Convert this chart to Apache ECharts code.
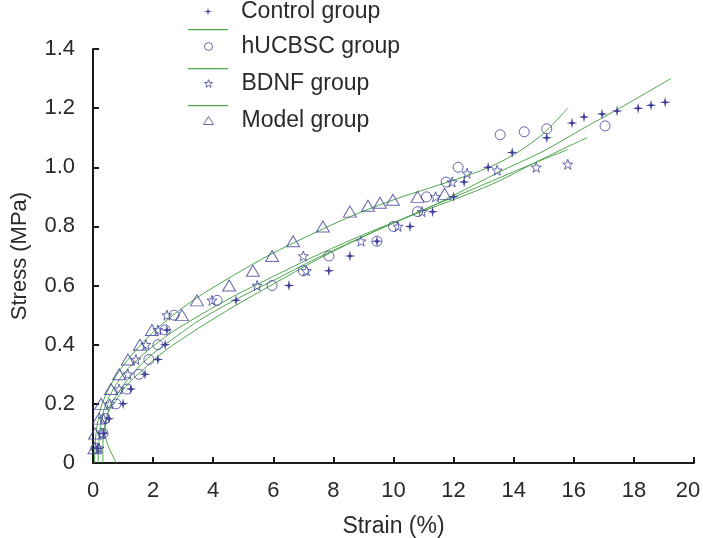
<!DOCTYPE html>
<html>
<head>
<meta charset="utf-8">
<script src="https://cdn.jsdelivr.net/npm/echarts@6/dist/echarts.min.js"></script>
<style>html,body{margin:0;padding:0;background:#fff}#c{width:703px;height:538px}</style>
</head>
<body>
<div id="c"></div>
<script>
// ---- data ----
const xTicks = [0, 2, 4, 6, 8, 10, 12, 14, 16, 18, 20];
const yTicks = [0, 0.2, 0.4, 0.6, 0.8, 1.0, 1.2, 1.4];

const controlX = [0.15,0.35,0.53,1.0,1.26,1.73,2.16,2.4,2.46,4.76,6.52,7.85,8.55,9.45,10.55,11.3,12.0,12.35,13.15,13.95,15.1,15.94,16.34,16.94,17.44,18.14,18.57,19.04];
const controlY = [0.05,0.10,0.15,0.20,0.25,0.30,0.35,0.40,0.45,0.55,0.60,0.65,0.70,0.75,0.80,0.85,0.90,0.95,1.00,1.05,1.10,1.15,1.17,1.18,1.19,1.20,1.21,1.22];

const hucX = [0.1,0.33,0.4,0.77,1.13,1.53,1.86,2.16,2.4,2.7,4.13,5.96,7.0,7.85,9.45,10.0,10.8,11.1,11.75,12.15,13.55,14.35,15.1,17.04];
const hucY = [0.05,0.10,0.15,0.20,0.25,0.30,0.35,0.40,0.45,0.50,0.55,0.60,0.65,0.70,0.75,0.80,0.85,0.90,0.95,1.00,1.11,1.12,1.13,1.14];

const bdnfX = [0.2,0.3,0.35,0.56,0.87,1.16,1.43,1.76,2.16,2.46,3.96,5.46,7.1,7.0,8.92,10.15,10.95,11.4,11.95,12.45,13.45,14.75,15.8];
const bdnfY = [0.05,0.10,0.15,0.20,0.25,0.30,0.35,0.40,0.45,0.50,0.55,0.60,0.65,0.70,0.75,0.80,0.85,0.90,0.95,0.98,0.99,1.00,1.01];

const modelX = [0.05,0.07,0.2,0.27,0.6,0.87,1.16,1.56,1.96,2.96,3.46,4.53,5.32,5.96,6.66,7.65,8.55,9.15,9.55,9.98,10.8,11.7];
const modelY = [0.05,0.10,0.15,0.20,0.25,0.30,0.35,0.40,0.45,0.50,0.55,0.60,0.65,0.70,0.75,0.80,0.85,0.87,0.88,0.89,0.90,0.91];

// fitted curves
const fitControlX = [0.77,0.5,0.4,0.42,0.55,0.75,1.1,1.6,2.4,3.5,4.7,6.0,7.5,9.3,11.2,12.0,13.54,15.0,16.2,17.44,19.23];
const fitControlY = [0,0.06,0.1,0.14,0.18,0.21,0.26,0.31,0.38,0.455,0.53,0.605,0.69,0.78,0.865,0.905,0.985,1.055,1.125,1.195,1.30];

const fitHucX = [0.17,0.22,0.43,1.0,1.7,2.6,3.56,4.7,5.9,7.5,9.3,11.2,12.5,13.54,14.6,15.7,16.44];
const fitHucY = [0,0.1,0.2,0.3,0.37,0.44,0.50,0.565,0.626,0.705,0.785,0.86,0.91,0.955,1.01,1.065,1.10];

const fitBdnfX = [0.33,0.33,0.35,0.45,0.6,1.3,2.0,2.8,3.56,4.7,5.9,7.5,9.3,11.2,12.5,13.54,14.7,15.8];
const fitBdnfY = [0,0.05,0.1,0.15,0.2,0.3,0.37,0.43,0.484,0.55,0.612,0.695,0.78,0.865,0.92,0.965,1.015,1.06];

const fitModelX = [0.05,0.1,0.3,0.8,1.5,2.3,3.4,4.6,5.9,7.2,8.6,10.0,11.2,12.4,13.4,14.2,15.0,15.8];
const fitModelY = [0,0.1,0.2,0.3,0.39,0.47,0.555,0.63,0.705,0.77,0.835,0.89,0.93,0.97,1.01,1.055,1.115,1.20];

// ---- helpers ----
const zip = (xs, ys) => xs.map((x, i) => [x, ys[i]]);
const PT = '#40409c';
const GREEN = '#4fa64f';
const FONT = 'Liberation Sans, Arial, sans-serif';
const plusPath = 'path://M0,-6 L1.1,-1.1 L6,0 L1.1,1.1 L0,6 L-1.1,1.1 L-6,0 L-1.1,-1.1 Z';
const starPath = 'path://M0,-10 L2.35,-3.24 L9.51,-3.09 L3.8,1.24 L5.88,8.09 L0,4 L-5.88,8.09 L-3.8,1.24 L-9.51,-3.09 L-2.35,-3.24 Z';

const chart = echarts.init(document.getElementById('c'), null, {renderer: 'canvas'});

const legendBase = {
  orient: 'vertical', selectedMode: false, padding: 0,
  textStyle: {fontSize: 23, color: '#2a2a2a', fontFamily: FONT}
};
const hollow = {color: 'rgba(0,0,0,0)', borderColor: PT, borderWidth: 1};
function symLegend(name, top, style, w, h) {
  return Object.assign({}, legendBase, {
    data: [{name: name, itemStyle: style}], left: 208 - w / 2, top: top,
    itemWidth: w, itemHeight: h,
    textStyle: Object.assign({}, legendBase.textStyle, {padding: [0, 0, 0, 241 - (208 + w / 2) - 5]})
  });
}
function lineLegend(name, top) {
  return Object.assign({}, legendBase, {data: [{name: name, icon: 'rect'}], left: 188, top: top,
    itemWidth: 40, itemHeight: 1.3, formatter: () => ''});
}
const xMax = xTicks[xTicks.length - 1];

chart.setOption({
  animation: false,
  backgroundColor: '#fff',
  grid: {left: 93, right: 9, top: 49, bottom: 75, containLabel: false, outerBoundsMode: 'none'},
  legend: [
    symLegend('Control group', 0, {color: PT}, 8, 8),
    lineLegend('Control fit', 29),
    symLegend('hUCBSC group', 35, hollow, 8, 8),
    lineLegend('hUCBSC fit', 68),
    symLegend('BDNF group', 72, hollow, 8, 8),
    lineLegend('BDNF fit', 105),
    symLegend('Model group', 109, hollow, 10, 8)
  ],
  xAxis: {
    type: 'value', min: xTicks[0], max: xMax, interval: 2,
    name: 'Strain (%)', nameLocation: 'middle', nameGap: 52,
    nameTextStyle: {fontSize: 23, color: '#2a2a2a', fontFamily: FONT},
    axisLine: {lineStyle: {color: '#1a1a1a', width: 2}},
    axisTick: {inside: true, length: 6, lineStyle: {color: '#1a1a1a', width: 2}},
    axisLabel: {fontSize: 22, color: '#2a2a2a', fontFamily: FONT, margin: 17,
      formatter: v => (v === xMax ? '{m|' + v + '}' : String(v)),
      rich: {m: {fontSize: 22, color: '#2a2a2a', fontFamily: FONT, padding: [0, 12, 0, 0]}}},
    splitLine: {show: false}
  },
  yAxis: {
    type: 'value', min: yTicks[0], max: yTicks[yTicks.length - 1], interval: 0.2,
    name: 'Stress (MPa)', nameLocation: 'middle', nameGap: 62,
    nameTextStyle: {fontSize: 22, color: '#2a2a2a', fontFamily: FONT},
    axisLine: {show: true, lineStyle: {color: '#1a1a1a', width: 2}},
    axisTick: {show: true, inside: true, length: 6, lineStyle: {color: '#1a1a1a', width: 2}},
    axisLabel: {fontSize: 22, color: '#2a2a2a', fontFamily: FONT, margin: 18,
      formatter: v => (v === 0 ? '0' : v.toFixed(1))},
    splitLine: {show: false}
  },
  series: [
    {name: 'Control fit', type: 'line', data: zip(fitControlX, fitControlY), showSymbol: false, smooth: 0.3,
      lineStyle: {color: GREEN, width: 1}, itemStyle: {color: GREEN}, z: 1},
    {name: 'hUCBSC fit', type: 'line', data: zip(fitHucX, fitHucY), showSymbol: false, smooth: 0.3,
      lineStyle: {color: GREEN, width: 1}, itemStyle: {color: GREEN}, z: 1},
    {name: 'BDNF fit', type: 'line', data: zip(fitBdnfX, fitBdnfY), showSymbol: false, smooth: 0.3,
      lineStyle: {color: GREEN, width: 1}, itemStyle: {color: GREEN}, z: 1},
    {name: 'Model fit', type: 'line', data: zip(fitModelX, fitModelY), showSymbol: false, smooth: 0.3,
      lineStyle: {color: GREEN, width: 1}, itemStyle: {color: GREEN}, z: 1},
    {name: 'Control group', type: 'scatter', data: zip(controlX, controlY), symbol: plusPath, symbolSize: 11,
      itemStyle: {color: PT, opacity: 1}, z: 3},
    {name: 'hUCBSC group', type: 'scatter', data: zip(hucX, hucY), symbol: 'circle', symbolSize: 10,
      itemStyle: hollow, z: 3},
    {name: 'BDNF group', type: 'scatter', data: zip(bdnfX, bdnfY), symbol: starPath, symbolSize: 10,
      itemStyle: hollow, z: 3},
    {name: 'Model group', type: 'scatter', data: zip(modelX, modelY), symbol: 'triangle', symbolSize: [13, 11],
      itemStyle: hollow, z: 3}
  ]
});
</script>
</body>
</html>
